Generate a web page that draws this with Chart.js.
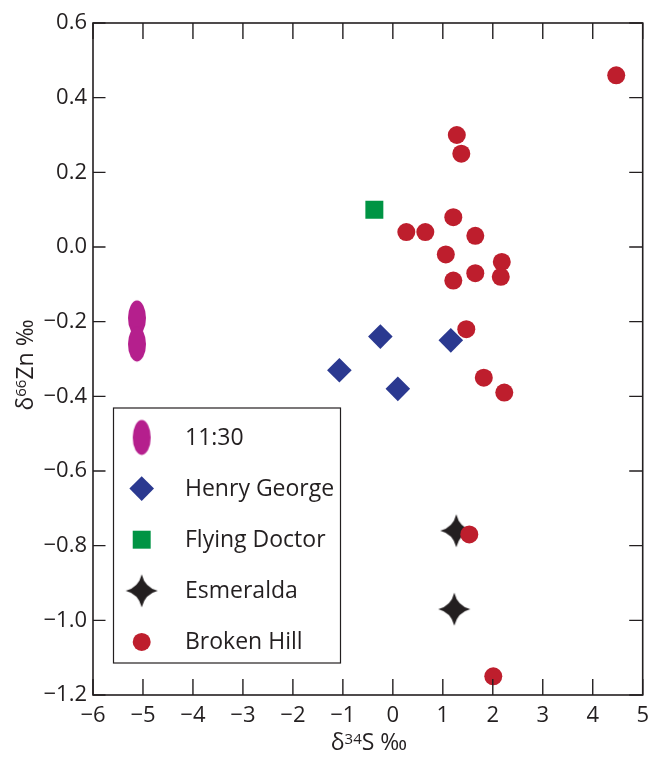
<!DOCTYPE html>
<html>
<head>
<meta charset="utf-8">
<script src="https://cdn.jsdelivr.net/npm/chart.js@4.4.0/dist/chart.umd.min.js"></script>
<style>
  html, body { margin: 0; padding: 0; background: #fff; }
  #wrap { width: 649px; height: 758px; }
</style>
</head>
<body>
<div id="wrap"><canvas id="plot" width="649" height="758"></canvas></div>
<script>
// data (δ34S ‰, δ66Zn ‰)
const x1130 = [-5.12, -5.12];
const y1130 = [-0.19, -0.26];
const xHenry = [-1.07, -0.25, 0.10, 1.16];
const yHenry = [-0.33, -0.24, -0.38, -0.25];
const xFlying = [-0.37];
const yFlying = [0.10];
const xEsmer = [1.27, 1.23];
const yEsmer = [-0.76, -0.97];
const xBroken = [4.47, 1.28, 1.37, 1.21, 0.27, 0.65, 1.65, 1.06, 2.18, 1.65, 2.16, 1.21, 1.47, 1.82, 2.23, 1.53, 2.01];
const yBroken = [0.46, 0.30, 0.25, 0.08, 0.04, 0.04, 0.03, -0.02, -0.04, -0.07, -0.08, -0.09, -0.22, -0.35, -0.39, -0.77, -1.15];

const xTicks = [-6, -5, -4, -3, -2, -1, 0, 1, 2, 3, 4, 5];
const yTicks = [-1.2, -1.0, -0.8, -0.6, -0.4, -0.2, 0.0, 0.2, 0.4, 0.6];

const ink = '#231f20';
const fontFam = '"Open Sans", "Noto Sans", sans-serif';

function pts(xs, ys) {
  return xs.map((x, i) => ({ x: x, y: ys[i] }));
}

function minus(s) {
  return s.replace('-', '\u2212');
}

// custom marks
function ellipseMark(color) {
  const c = document.createElement('canvas');
  c.width = 20; c.height = 38;
  const g = c.getContext('2d');
  g.fillStyle = color;
  g.beginPath();
  g.ellipse(10, 19, 9, 17.5, 0, 0, Math.PI * 2);
  g.fill();
  return c;
}

function starMark(color) {
  const c = document.createElement('canvas');
  c.width = 36; c.height = 36;
  const g = c.getContext('2d');
  const m = 18, rx = 16, ry = 16.5, k = 3.2;
  g.fillStyle = color;
  g.beginPath();
  g.moveTo(m, m - ry);
  g.quadraticCurveTo(m + k, m - k, m + rx, m);
  g.quadraticCurveTo(m + k, m + k, m, m + ry);
  g.quadraticCurveTo(m - k, m + k, m - rx, m);
  g.quadraticCurveTo(m - k, m - k, m, m - ry);
  g.fill();
  return c;
}

const legendRows = [
  { label: '11:30', color: '#b51f8d', style: ellipseMark('#b51f8d'), radius: 5 },
  { label: 'Henry George', color: '#2b3990', style: 'rectRot', radius: 12.3 },
  { label: 'Flying Doctor', color: '#009444', style: 'rect', radius: 12.7 },
  { label: 'Esmeralda', color: ink, style: starMark(ink), radius: 5 },
  { label: 'Broken Hill', color: '#be1e2d', style: 'circle', radius: 9 }
];

function ds(row, data) {
  return {
    label: row.label,
    data: data,
    pointStyle: row.style,
    pointRadius: row.radius,
    pointHoverRadius: row.radius,
    backgroundColor: row.color,
    borderColor: row.color,
    borderWidth: 0,
    showLine: false
  };
}

function drawTitle(ctx, parts, cx, baseY) {
  let total = 0;
  parts.forEach(p => {
    ctx.font = p.sup ? '15px ' + fontFam : '23px ' + fontFam;
    p.w = ctx.measureText(p.t).width;
    total += p.w;
  });
  let x = cx - total / 2;
  parts.forEach(p => {
    ctx.font = p.sup ? '15px ' + fontFam : '23px ' + fontFam;
    ctx.fillText(p.t, x, p.sup ? baseY - 6.5 : baseY);
    x += p.w;
  });
}

const framePlugin = {
  id: 'frame',
  afterDraw(chart) {
    const ctx = chart.ctx;
    const a = chart.chartArea;
    const sx = chart.scales.x, sy = chart.scales.y;
    ctx.save();
    ctx.strokeStyle = ink;
    ctx.lineWidth = 1.6;
    ctx.strokeRect(a.left, a.top, a.right - a.left, a.bottom - a.top);

    // inward ticks
    ctx.lineWidth = 1.4;
    ctx.beginPath();
    xTicks.forEach(v => {
      const px = sx.getPixelForValue(v);
      ctx.moveTo(px, a.bottom); ctx.lineTo(px, a.bottom - 16);
      ctx.moveTo(px, a.top); ctx.lineTo(px, a.top + 16);
    });
    yTicks.forEach(v => {
      const py = sy.getPixelForValue(v);
      ctx.moveTo(a.left, py); ctx.lineTo(a.left + 12.5, py);
      ctx.moveTo(a.right, py); ctx.lineTo(a.right - 13.5, py);
    });
    ctx.stroke();

    // legend box
    const lx = 113.5, ly = 408, lw = 227, lh = 255;
    ctx.fillStyle = '#fff';
    ctx.fillRect(lx, ly, lw, lh);
    ctx.lineWidth = 1.2;
    ctx.strokeRect(lx, ly, lw, lh);
    legendRows.forEach((r, i) => {
      const cy = 437.5 + i * 51.1;
      ctx.fillStyle = r.color;
      Chart.helpers.drawPoint(ctx, { pointStyle: r.style, radius: r.radius, rotation: 0, borderWidth: 0 }, 141.7, cy);
      ctx.fillStyle = ink;
      ctx.font = '23px ' + fontFam;
      ctx.textBaseline = 'middle';
      ctx.textAlign = 'left';
      ctx.fillText(r.label, 185, cy + 1);
    });

    // axis titles
    ctx.fillStyle = ink;
    ctx.textBaseline = 'alphabetic';
    ctx.textAlign = 'left';
    drawTitle(ctx, [{ t: '\u03b4' }, { t: '34', sup: true }, { t: 'S \u2030' }], 369, 750);
    ctx.translate(32.5, 365);
    ctx.rotate(-Math.PI / 2);
    drawTitle(ctx, [{ t: '\u03b4' }, { t: '66', sup: true }, { t: 'Zn \u2030' }], 0, 0);
    ctx.restore();
  }
};

new Chart(document.getElementById('plot'), {
  type: 'scatter',
  data: {
    datasets: [
      ds(legendRows[4], pts(xBroken, yBroken)),
      ds(legendRows[3], pts(xEsmer, yEsmer)),
      ds(legendRows[2], pts(xFlying, yFlying)),
      ds(legendRows[1], pts(xHenry, yHenry)),
      ds(legendRows[0], pts(x1130, y1130))
    ]
  },
  options: {
    responsive: false,
    animation: false,
    // big markers would otherwise push the right edge in
    layout: { autoPadding: false, padding: { top: 23, right: 0, left: 0, bottom: 0 } },
    plugins: {
      legend: { display: false },
      tooltip: { enabled: false }
    },
    scales: {
      x: {
        type: 'linear',
        min: -6,
        max: 5,
        afterBuildTicks: s => { s.ticks = xTicks.map(v => ({ value: v })); },
        afterFit: s => { s.height = 63; },
        grid: { display: false, drawTicks: false },
        border: { display: false },
        ticks: {
          padding: 0,
          color: ink,
          font: { family: fontFam, size: 22, lineHeight: 1.93 },
          maxRotation: 0,
          callback: v => minus(String(v))
        }
      },
      y: {
        type: 'linear',
        min: -1.2,
        max: 0.6,
        afterBuildTicks: s => { s.ticks = yTicks.map(v => ({ value: v })); },
        afterFit: s => { s.width = 93; },
        grid: { display: false, drawTicks: false },
        border: { display: false },
        ticks: {
          padding: 6,
          color: ink,
          font: { family: fontFam, size: 22 },
          callback: v => minus(Number(v).toFixed(1))
        }
      }
    }
  },
  plugins: [framePlugin]
});
</script>
</body>
</html>
